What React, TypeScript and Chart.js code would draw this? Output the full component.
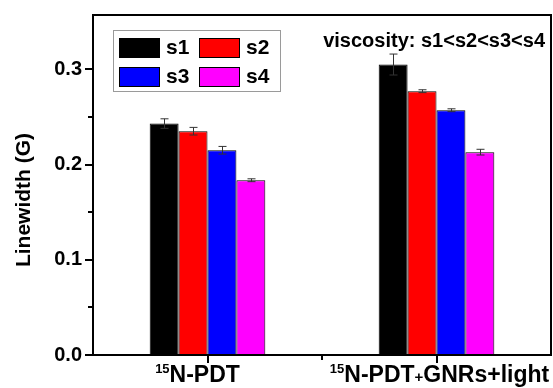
import React, { useEffect, useRef } from "react";
import { Chart, registerables } from "chart.js";

Chart.register(...registerables);

const FONT = '"Liberation Sans", Arial, sans-serif';

const categories = ["15N-PDT", "15N-PDT+GNRs+light"];
const labelSup = ["15", "15"];
const labelMain = ["N-PDT", "N-PDT+GNRs+light"];

const seriesNames = ["s1", "s2", "s3", "s4"];
const seriesColors = ["#000000", "#ff0000", "#0000ff", "#ff00ff"];

const s1 = [0.243, 0.305];
const s2 = [0.235, 0.277];
const s3 = [0.215, 0.257];
const s4 = [0.1835, 0.213];

const s1Err = [0.005, 0.011];
const s2Err = [0.004, 0.0015];
const s3Err = [0.004, 0.0015];
const s4Err = [0.0015, 0.003];

const yMin = 0;
const yMax = 0.357;
const yStep = 0.05;

const annotationText = "viscosity: s1<s2<s3<s4";
const yTitle = "Linewidth (G)";

const seriesValues = [s1, s2, s3, s4];
const seriesErrors = [s1Err, s2Err, s3Err, s4Err];

// style: horizontal nudge of each category label (pixels)
const xLabelNudge = [-10, 3];

const isTenth = (v: number) => Math.abs(v * 10 - Math.round(v * 10)) < 1e-6;

const decorPlugin = {
  id: "decor",
  afterDatasetsDraw(chart: any) {
    const ctx = chart.ctx;
    const yScale = chart.scales.y;
    ctx.save();
    ctx.strokeStyle = "#333333";
    ctx.lineWidth = 1;
    chart.data.datasets.forEach((ds: any, di: number) => {
      const meta = chart.getDatasetMeta(di);
      meta.data.forEach((bar: any, i: number) => {
        const v = ds.data[i];
        const e = seriesErrors[di][i];
        const x = Math.round(bar.x) + 0.5;
        const yt = yScale.getPixelForValue(v + e);
        const yb = yScale.getPixelForValue(v - e);
        const cap = 4;
        ctx.beginPath();
        ctx.moveTo(x, yt);
        ctx.lineTo(x, yb);
        ctx.moveTo(x - cap, yt);
        ctx.lineTo(x + cap, yt);
        ctx.moveTo(x - cap, yb);
        ctx.lineTo(x + cap, yb);
        ctx.stroke();
      });
    });
    ctx.restore();
  },
  afterDraw(chart: any) {
    const ctx = chart.ctx;
    const { left, right, top, bottom } = chart.chartArea;
    const xScale = chart.scales.x;
    const yScale = chart.scales.y;
    ctx.save();

    // plot frame
    ctx.strokeStyle = "#000";
    ctx.lineWidth = 2;
    ctx.strokeRect(left, top, right - left, bottom - top);

    // y ticks
    ctx.lineWidth = 2;
    yScale.ticks.forEach((t: any) => {
      const v = t.value;
      const onStep = Math.abs(v / yStep - Math.round(v / yStep)) < 1e-6;
      if (!onStep) return;
      const len = isTenth(v) ? 8 : 5;
      const y = Math.round(yScale.getPixelForValue(v));
      ctx.beginPath();
      ctx.moveTo(left - len, y);
      ctx.lineTo(left, y);
      ctx.stroke();
    });

    // x ticks
    for (let i = 0; i < categories.length; i++) {
      const x = Math.round(xScale.getPixelForValue(i));
      ctx.beginPath();
      ctx.moveTo(x, bottom);
      ctx.lineTo(x, bottom + 8);
      ctx.stroke();
      if (i < categories.length - 1) {
        const xm = Math.round((xScale.getPixelForValue(i) + xScale.getPixelForValue(i + 1)) / 2);
        ctx.beginPath();
        ctx.moveTo(xm, bottom);
        ctx.lineTo(xm, bottom + 5);
        ctx.stroke();
      }
    }

    // x labels with superscript; first "+" drawn smaller
    ctx.fillStyle = "#000";
    ctx.textBaseline = "alphabetic";
    ctx.textAlign = "left";
    const supFont = `bold 13px ${FONT}`;
    const mainFont = `bold 23px ${FONT}`;
    const plusFont = `bold 15px ${FONT}`;
    for (let i = 0; i < categories.length; i++) {
      const cx = xScale.getPixelForValue(i) + xLabelNudge[i];
      const main = labelMain[i];
      const p = main.indexOf("+");
      const segs: { t: string; f: string }[] =
        p >= 0
          ? [
              { t: main.slice(0, p), f: mainFont },
              { t: "+", f: plusFont },
              { t: main.slice(p + 1), f: mainFont },
            ]
          : [{ t: main, f: mainFont }];
      ctx.font = supFont;
      const wSup = ctx.measureText(labelSup[i]).width;
      let wMain = 0;
      segs.forEach((s) => {
        ctx.font = s.f;
        wMain += ctx.measureText(s.t).width;
      });
      let x = cx - (wSup + wMain) / 2;
      ctx.font = supFont;
      ctx.fillText(labelSup[i], x, bottom + 18);
      x += wSup;
      segs.forEach((s) => {
        ctx.font = s.f;
        ctx.fillText(s.t, x, bottom + 27);
        x += ctx.measureText(s.t).width;
      });
    }

    // y title
    ctx.save();
    ctx.translate(24, 200);
    ctx.rotate(-Math.PI / 2);
    ctx.textAlign = "center";
    ctx.textBaseline = "middle";
    ctx.font = `bold 21px ${FONT}`;
    ctx.fillText(yTitle, 0, 0);
    ctx.restore();

    // legend
    const lx = left + 20;
    const ly = top + 15;
    ctx.strokeStyle = "#9a9a9a";
    ctx.lineWidth = 1;
    ctx.strokeRect(lx + 0.5, ly + 0.5, 167, 61);
    ctx.font = `bold 21px ${FONT}`;
    ctx.textBaseline = "middle";
    ctx.textAlign = "left";
    seriesNames.forEach((name, i) => {
      const col = i % 2;
      const row = Math.floor(i / 2);
      const sx = lx + 6 + col * 80;
      const sy = ly + 8 + row * 29;
      ctx.fillStyle = seriesColors[i];
      ctx.fillRect(sx, sy, 40, 19);
      ctx.strokeStyle = "#000";
      ctx.strokeRect(sx + 0.5, sy + 0.5, 40, 19);
      ctx.fillStyle = "#000";
      ctx.fillText(name, sx + 47, sy + 10);
    });

    // annotation
    ctx.font = `bold 20px ${FONT}`;
    ctx.textBaseline = "alphabetic";
    ctx.textAlign = "right";
    ctx.fillText(annotationText, right - 6, top + 32);

    ctx.restore();
  },
};

export default function App() {
  const canvasRef = useRef<HTMLCanvasElement | null>(null);

  useEffect(() => {
    if (!canvasRef.current) return;
    const chart = new Chart(canvasRef.current, {
      type: "bar",
      data: {
        labels: categories,
        datasets: seriesNames.map((name, i) => ({
          label: name,
          data: seriesValues[i],
          backgroundColor: seriesColors[i],
          borderColor: "#000000",
          borderWidth: 1,
          barPercentage: 1,
          categoryPercentage: 0.505,
        })),
      },
      options: {
        responsive: false,
        animation: false,
        layout: { padding: { top: 15, right: 2, left: 0, bottom: 0 } },
        plugins: {
          legend: { display: false },
          tooltip: { enabled: false },
          title: { display: false },
        },
        scales: {
          x: {
            type: "category",
            offset: true,
            grid: { display: false },
            border: { display: false },
            ticks: { display: false },
            afterFit: (scale: any) => {
              scale.height = 33;
            },
          },
          y: {
            min: yMin,
            max: yMax,
            grid: {
              display: true,
              drawOnChartArea: false,
              drawTicks: true,
              tickLength: 8,
              color: "rgba(0,0,0,0)",
            },
            border: { display: false },
            ticks: {
              stepSize: yStep,
              padding: 3,
              color: "#000",
              font: { family: FONT, size: 20, weight: "bold" },
              callback: (v: any) => (isTenth(Number(v)) ? Number(v).toFixed(1) : ""),
            },
            afterFit: (scale: any) => {
              scale.width = 93;
            },
          },
        },
      },
      plugins: [decorPlugin],
    });
    return () => chart.destroy();
  }, []);

  return (
    <div style={{ position: "absolute", left: 0, top: 0, width: 553, height: 388, background: "#fff" }}>
      <canvas ref={canvasRef} width={553} height={388} />
    </div>
  );
}
